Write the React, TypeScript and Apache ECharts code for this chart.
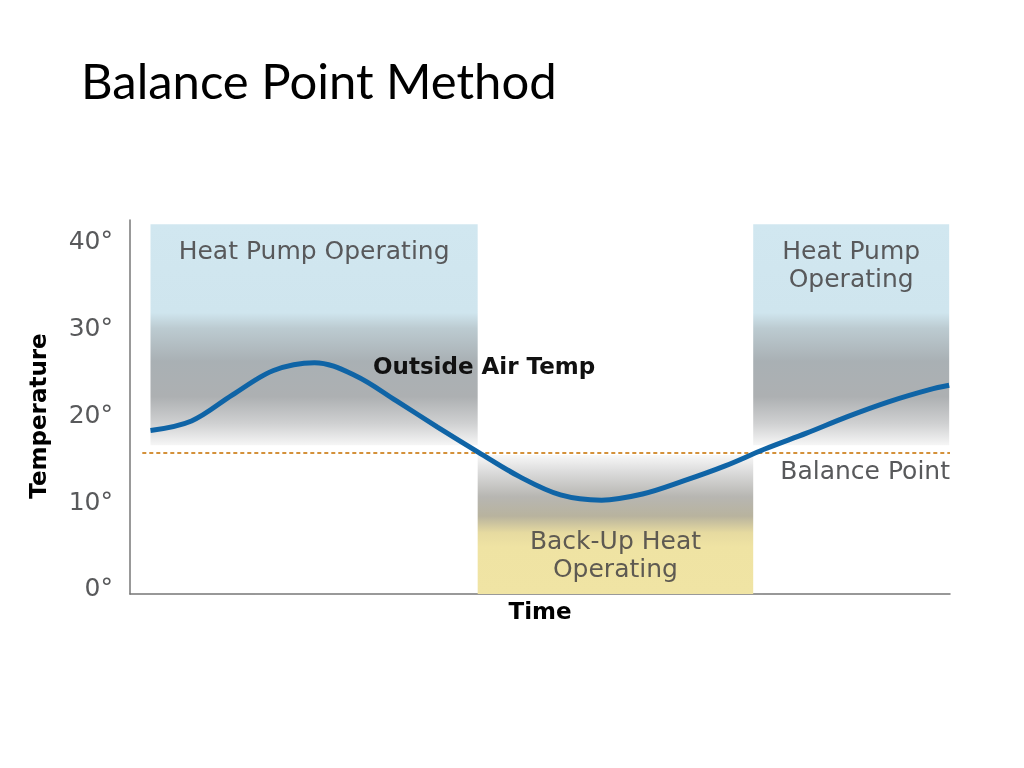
import React, { useEffect, useRef } from "react";
import * as echarts from "echarts";

const timePoints = [2.5, 7.5, 12.5, 17.5, 22.5, 27.5, 32.5, 37.5, 42.5, 47.5, 52.5, 57.5, 62.5, 67.5, 72.5, 77.5, 82.5, 87.5, 92.5, 97.5, 99.9];
const outsideTemp = [18.1, 19.2, 22.2, 25.0, 25.9, 24.4, 21.5, 18.5, 15.6, 12.8, 10.7, 10.1, 10.8, 12.3, 14.0, 16.0, 17.8, 19.7, 21.4, 22.8, 23.3];
const yTickValues = [0, 10, 20, 30, 40];
const balancePoint = 15.5;
const heatPumpZones = [
  { label: "Heat Pump Operating", from: 2.5, to: 42.4 },
  { label: "Heat Pump\nOperating", from: 76, to: 99.9 },
];
const backupZone = { label: "Back-Up Heat\nOperating", from: 42.4, to: 76 };
const zoneTop = 41.8;
const zoneBottom = 16.4;
const backupTop = 15.3;

const FONT = "DejaVu Sans, Arial, sans-serif";

export default function App() {
  const ref = useRef<HTMLDivElement>(null);
  useEffect(() => {
    if (!ref.current) return;
    const chart = echarts.init(ref.current, null, { renderer: "svg" });
    const blueGrad = new echarts.graphic.LinearGradient(0, 0, 0, 1, [
      { offset: 0, color: "#d1e7f0" },
      { offset: 0.4, color: "#cfe5ee" },
      { offset: 0.47, color: "#bccbd1" },
      { offset: 0.62, color: "#a9b0b4" },
      { offset: 0.78, color: "#adb0b2" },
      { offset: 0.9, color: "#cfd0d1" },
      { offset: 1, color: "#f6f6f6" },
    ]);
    const yellowGrad = new echarts.graphic.LinearGradient(0, 0, 0, 1, [
      { offset: 0, color: "#f8f8f8" },
      { offset: 0.12, color: "#dcdcdc" },
      { offset: 0.3, color: "#b7b6b2" },
      { offset: 0.44, color: "#b8b39e" },
      { offset: 0.56, color: "#e6daa0" },
      { offset: 0.66, color: "#efe3a3" },
      { offset: 1, color: "#f0e4a4" },
    ]);
    const yMin = -0.69;
    const yMax = 42.3;
    chart.setOption({
      animation: false,
      title: {
        text: "Balance Point Method",
        left: 76,
        top: 50,
        textStyle: { fontFamily: "Lato, sans-serif", fontWeight: "normal", fontSize: 49, color: "#000" },
      },
      grid: { left: 130, right: 74, top: 220, bottom: 174 },
      xAxis: {
        type: "value",
        min: 0,
        max: 100,
        name: "Time",
        nameLocation: "middle",
        nameGap: 5,
        nameTextStyle: { fontFamily: FONT, fontWeight: "bold", fontSize: 23, color: "#000", verticalAlign: "top" },
        axisLine: { show: true, onZero: false, lineStyle: { color: "#777", width: 1.5 } },
        axisTick: { show: false },
        axisLabel: { show: false },
        splitLine: { show: false },
      },
      yAxis: {
        type: "value",
        min: yMin,
        max: yMax,
        axisLine: { show: true, onZero: false, lineStyle: { color: "#777", width: 1.5 } },
        axisTick: { show: false },
        splitLine: { show: false },
        axisLabel: {
          customValues: yTickValues,
          formatter: (v: number) => `${v}°`,
          fontFamily: FONT,
          fontSize: 25,
          color: "#58595b",
          margin: 17,
        },
      },
      graphic: [
        {
          type: "text",
          x: 38,
          y: 416,
          z: 100,
          rotation: Math.PI / 2,
          style: {
            text: "Temperature",
            fontFamily: FONT,
            fontWeight: "bold",
            fontSize: 23,
            fill: "#000",
            textAlign: "center",
            textVerticalAlign: "middle",
          },
        },
        {
          type: "text",
          x: 373,
          y: 366,
          z: 100,
          style: {
            text: "Outside Air Temp",
            fontFamily: FONT,
            fontWeight: "bold",
            fontSize: 23,
            fill: "#111",
            textAlign: "left",
            textVerticalAlign: "middle",
          },
        },
      ],
      series: [
        {
          type: "line",
          data: [],
          z: 1,
          markArea: {
            silent: true,
            itemStyle: { color: blueGrad },
            label: {
              position: "insideTop",
              distance: 12,
              fontFamily: FONT,
              fontSize: 25,
              lineHeight: 28,
              color: "#58595b",
            },
            data: heatPumpZones.map((z) => [
              { name: z.label, coord: [z.from, zoneTop] },
              { coord: [z.to, zoneBottom] },
            ]),
          },
        },
        {
          type: "line",
          data: [],
          z: 1,
          markArea: {
            silent: true,
            itemStyle: { color: yellowGrad },
            label: {
              position: "insideBottom",
              distance: 12,
              fontFamily: FONT,
              fontSize: 25,
              lineHeight: 28,
              color: "#5e5a52",
            },
            data: [[
              { name: backupZone.label, coord: [backupZone.from, backupTop] },
              { coord: [backupZone.to, yMin] },
            ]],
          },
        },
        {
          type: "line",
          data: [],
          z: 3,
          markLine: {
            silent: true,
            symbol: "none",
            lineStyle: { color: "#d4913a", type: [4, 3], width: 2 },
            label: {
              show: true,
              position: "insideEndBottom",
              formatter: "Balance Point",
              fontFamily: FONT,
              fontSize: 25,
              color: "#58595b",
              distance: [0, 5],
            },
            data: [[
              { coord: [1.5, balancePoint] },
              { coord: [100, balancePoint] },
            ]],
          },
        },
        {
          type: "line",
          name: "Outside Air Temp",
          data: timePoints.map((t, i) => [t, outsideTemp[i]]),
          smooth: 0.35,
          showSymbol: false,
          z: 5,
          lineStyle: { color: "#0f64a6", width: 5 },
        },
      ],
    });
    return () => chart.dispose();
  }, []);
  return <div ref={ref} style={{ position: "fixed", left: 0, top: 0, width: 1024, height: 768 }} />;
}
